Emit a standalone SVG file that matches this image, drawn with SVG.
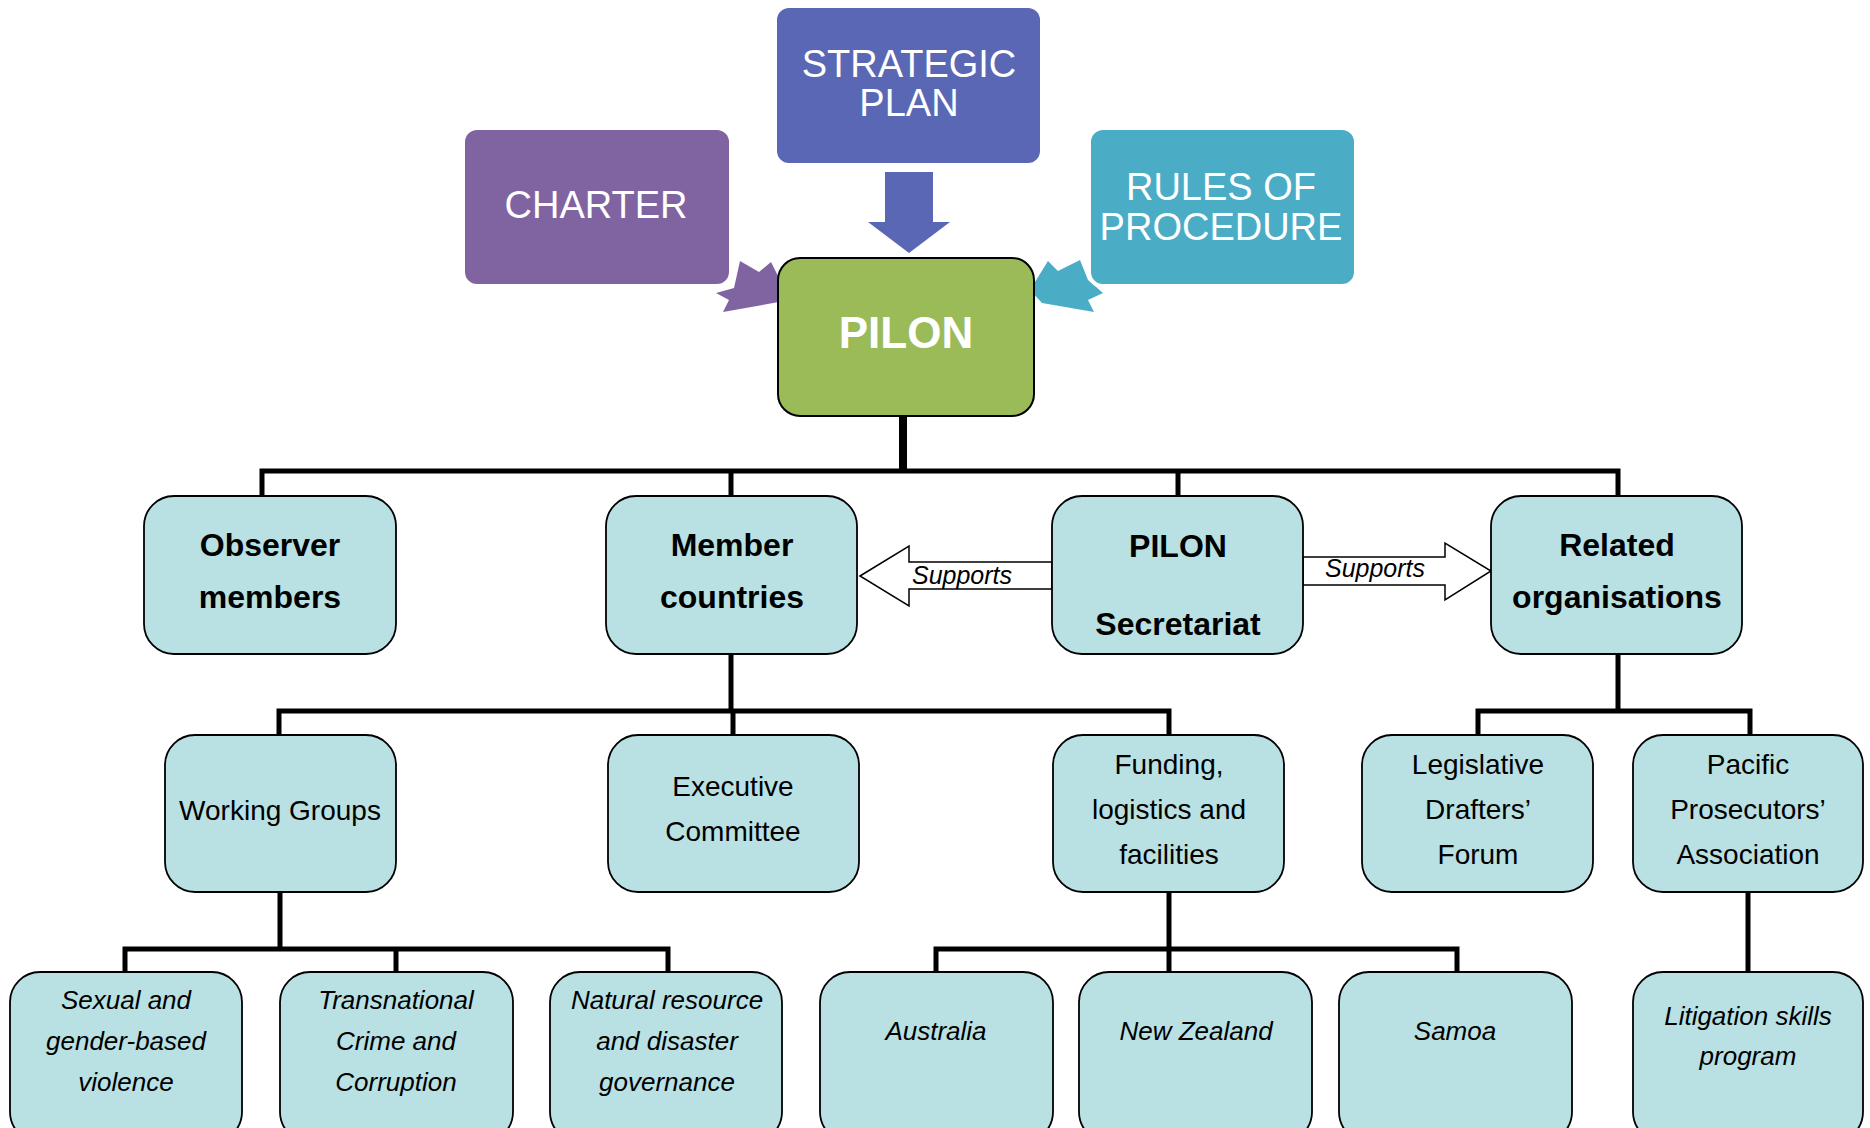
<svg xmlns="http://www.w3.org/2000/svg" width="1870" height="1128" viewBox="0 0 1870 1128">
<style>
.box{fill:#b9e0e3;stroke:#000;stroke-width:1.8}
.top{stroke:#fff;stroke-width:4}
.w{fill:#fff;font-family:"Liberation Sans",Arial,sans-serif;font-size:38px;text-anchor:middle}
.b{font-family:"Liberation Sans",Arial,sans-serif;font-weight:bold;font-size:32px;text-anchor:middle;fill:#000}
.r{font-family:"Liberation Sans",Arial,sans-serif;font-size:28px;text-anchor:middle;fill:#000}
.i{font-family:"Liberation Sans",Arial,sans-serif;font-style:italic;font-size:26px;text-anchor:middle;fill:#000}
.s{font-family:"Liberation Sans",Arial,sans-serif;font-style:italic;font-size:25px;text-anchor:middle;fill:#000}
.c{fill:none;stroke:#000;stroke-width:5}
.sa{fill:#fff;stroke:#000;stroke-width:1.5}
</style>
<rect width="1870" height="1128" fill="#fff"/>
<g id="arrows-top">
<polygon points="740,261 759,272 771,262 790,300 723,312 729,300 716,293 734,288" fill="#8064a2"/>
<polygon points="1048,261 1058,271 1080,260 1088,280 1103,293 1088,300 1094,312 1042,303 1030,290" fill="#4bacc6"/>
<polygon points="885,172 933,172 933,222 950,222 909,253 868,222 885,222" fill="#5a67b4"/>
</g>
<g id="charter"><rect class="top" x="463" y="128" width="268" height="158" rx="14" fill="#8064a2"/><text class="w" x="596" y="218">CHARTER</text></g>
<g id="strategic"><rect class="top" x="775" y="6" width="267" height="159" rx="14" fill="#5a67b4"/><text class="w" x="909" y="77">STRATEGIC</text><text class="w" x="909" y="116">PLAN</text></g>
<g id="rules"><rect class="top" x="1089" y="128" width="267" height="158" rx="14" fill="#4bacc6"/><text class="w" x="1221" y="200">RULES OF</text><text class="w" x="1221" y="240">PROCEDURE</text></g>
<g id="pilon"><rect x="778" y="258" width="256" height="158" rx="22" fill="#9bbb59" stroke="#000" stroke-width="2"/><text x="906" y="348" text-anchor="middle" fill="#fff" font-family="Liberation Sans,Arial,sans-serif" font-weight="bold" font-size="44">PILON</text></g>
<g id="connectors">
<line x1="903" y1="416" x2="903" y2="473" stroke="#000" stroke-width="8"/>
<polyline class="c" points="262,496 262,471 1618,471 1618,496"/>
<line class="c" x1="731" y1="471" x2="731" y2="496"/>
<line class="c" x1="1178" y1="471" x2="1178" y2="496"/>
<line class="c" x1="731" y1="654" x2="731" y2="711"/>
<polyline class="c" points="279,735 279,711 1169,711 1169,735"/>
<line class="c" x1="733" y1="711" x2="733" y2="735"/>
<line class="c" x1="1618" y1="654" x2="1618" y2="711"/>
<polyline class="c" points="1478,735 1478,711 1750,711 1750,735"/>
<line class="c" x1="280" y1="892" x2="280" y2="949"/>
<polyline class="c" points="125,972 125,949 668,949 668,972"/>
<line class="c" x1="396" y1="949" x2="396" y2="972"/>
<line class="c" x1="1169" y1="892" x2="1169" y2="972"/>
<polyline class="c" points="936,972 936,949 1457,949 1457,972"/>
<line class="c" x1="1748" y1="892" x2="1748" y2="972"/>
<polygon class="sa" points="860,576 909,546 909,562 1052,562 1052,589 909,589 909,606"/>
<polygon class="sa" points="1303,557 1445,557 1445,543 1491,571 1445,600 1445,585 1303,585"/>
<text class="s" x="962" y="584">Supports</text>
<text class="s" x="1375" y="577">Supports</text>
</g>
<g id="observer"><rect class="box" x="144" y="496" width="252" height="158" rx="30"/><text class="b" x="270" y="556">Observer</text><text class="b" x="270" y="608">members</text></g>
<g id="member"><rect class="box" x="606" y="496" width="251" height="158" rx="30"/><text class="b" x="732" y="556">Member</text><text class="b" x="732" y="608">countries</text></g>
<g id="secretariat"><rect class="box" x="1052" y="496" width="251" height="158" rx="30"/><text class="b" x="1178" y="557">PILON</text><text class="b" x="1178" y="635">Secretariat</text></g>
<g id="related"><rect class="box" x="1491" y="496" width="251" height="158" rx="30"/><text class="b" x="1617" y="556">Related</text><text class="b" x="1617" y="608">organisations</text></g>
<g id="working"><rect class="box" x="165" y="735" width="231" height="157" rx="30"/><text class="r" x="280" y="820">Working Groups</text></g>
<g id="executive"><rect class="box" x="608" y="735" width="251" height="157" rx="30"/><text class="r" x="733" y="796">Executive</text><text class="r" x="733" y="841">Committee</text></g>
<g id="funding"><rect class="box" x="1053" y="735" width="231" height="157" rx="30"/><text class="r" x="1169" y="774">Funding,</text><text class="r" x="1169" y="819">logistics and</text><text class="r" x="1169" y="864">facilities</text></g>
<g id="legislative"><rect class="box" x="1362" y="735" width="231" height="157" rx="30"/><text class="r" x="1478" y="774">Legislative</text><text class="r" x="1478" y="819">Drafters’</text><text class="r" x="1478" y="864">Forum</text></g>
<g id="prosecutors"><rect class="box" x="1633" y="735" width="230" height="157" rx="30"/><text class="r" x="1748" y="774">Pacific</text><text class="r" x="1748" y="819">Prosecutors’</text><text class="r" x="1748" y="864">Association</text></g>
<g id="sexual"><rect class="box" x="10" y="972" width="232" height="170" rx="30"/><text class="i" x="126" y="1009">Sexual and</text><text class="i" x="126" y="1050">gender-based</text><text class="i" x="126" y="1091">violence</text></g>
<g id="transnational"><rect class="box" x="280" y="972" width="233" height="170" rx="30"/><text class="i" x="396" y="1009">Transnational</text><text class="i" x="396" y="1050">Crime and</text><text class="i" x="396" y="1091">Corruption</text></g>
<g id="natural"><rect class="box" x="550" y="972" width="232" height="170" rx="30"/><text class="i" x="667" y="1009">Natural resource</text><text class="i" x="667" y="1050">and disaster</text><text class="i" x="667" y="1091">governance</text></g>
<g id="australia"><rect class="box" x="820" y="972" width="233" height="170" rx="30"/><text class="i" x="936" y="1040">Australia</text></g>
<g id="newzealand"><rect class="box" x="1079" y="972" width="233" height="170" rx="30"/><text class="i" x="1196" y="1040">New Zealand</text></g>
<g id="samoa"><rect class="box" x="1339" y="972" width="233" height="170" rx="30"/><text class="i" x="1455" y="1040">Samoa</text></g>
<g id="litigation"><rect class="box" x="1633" y="972" width="230" height="170" rx="30"/><text class="i" x="1748" y="1025">Litigation skills</text><text class="i" x="1748" y="1065">program</text></g>
</svg>
